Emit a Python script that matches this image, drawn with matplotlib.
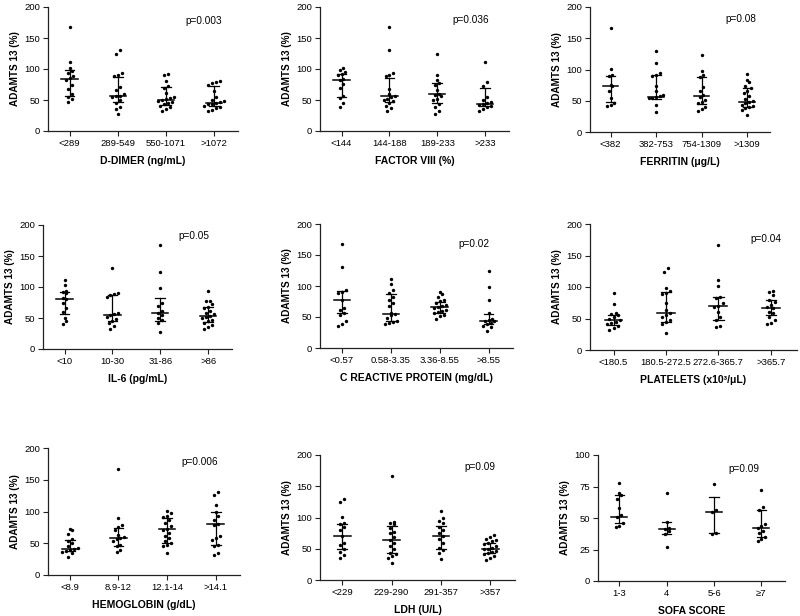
import numpy as np
import matplotlib
matplotlib.use("Agg")
import matplotlib.pyplot as plt

plt.rcParams['font.family'] = ['Liberation Sans', 'DejaVu Sans']

# ---- data (ADAMTS 13 activity, %) ----
ddimer_cats = ['<289', '289-549', '550-1071', '>1072']
ddimer_vals = [[167, 111, 101, 97, 93, 88, 85, 82, 74, 68, 59, 55, 52, 47],
               [131, 125, 94, 91, 89, 71, 66, 59, 57, 56, 55, 50, 45, 39, 35, 27],
               [92, 90, 81, 72, 70, 61, 55, 53, 51, 50, 49, 47, 45, 43, 41, 38, 35, 33],
               [81, 79, 77, 74, 65, 55, 50, 48, 46, 45, 44, 43, 41, 39, 37, 34, 32]]
ddimer_med = [84, 56, 50, 45]
ddimer_q1 = [56, 47, 42, 40]
ddimer_q3 = [98, 87, 71, 73]

f8_cats = ['<144', '144-188', '189-233', '>233']
f8_vals = [[102, 99, 95, 92, 90, 84, 82, 76, 70, 56, 54, 45, 39],
           [167, 130, 94, 91, 89, 68, 60, 57, 55, 52, 50, 48, 45, 41, 37, 33],
           [124, 91, 82, 78, 74, 66, 60, 58, 56, 52, 50, 44, 39, 33, 27],
           [111, 79, 73, 55, 50, 47, 45, 44, 42, 40, 38, 35, 33]]
f8_med = [83, 56, 59, 44]
f8_q1 = [55, 47, 45, 40]
f8_q3 = [92, 86, 77, 70]

ferr_cats = ['<382', '382-753', '754-1309', '>1309']
ferr_vals = [[167, 101, 91, 89, 76, 73, 66, 55, 47, 44, 41],
             [130, 111, 94, 92, 89, 74, 66, 59, 57, 56, 55, 54, 43, 32],
             [124, 98, 91, 88, 72, 66, 59, 56, 52, 48, 46, 40, 37, 33],
             [93, 83, 80, 73, 70, 66, 63, 58, 53, 50, 48, 46, 44, 42, 40, 38, 36, 27]]
ferr_med = [73, 56, 58, 48]
ferr_q1 = [48, 53, 45, 40]
ferr_q3 = [90, 91, 88, 70]

il6_cats = ['<10', '10-30', '31-86', '>86']
il6_vals = [[112, 104, 94, 92, 90, 83, 80, 74, 66, 59, 50, 45, 41],
            [130, 91, 89, 87, 84, 58, 56, 55, 52, 48, 45, 42, 37, 33],
            [167, 124, 98, 75, 69, 61, 58, 55, 50, 46, 42, 27],
            [93, 78, 77, 72, 68, 66, 62, 58, 56, 54, 52, 50, 47, 45, 42, 38, 35, 32]]
il6_med = [80, 55, 58, 54]
il6_q1 = [57, 45, 45, 43]
il6_q3 = [92, 87, 83, 68]

crp_cats = ['<0.57', '0.58-3.35', '3.36-8.55', '>8.55']
crp_vals = [[167, 130, 93, 91, 89, 78, 64, 62, 56, 54, 43, 39, 36],
            [111, 103, 94, 89, 83, 78, 72, 67, 57, 55, 53, 48, 44, 42, 40, 39],
            [91, 87, 82, 78, 76, 73, 70, 68, 66, 64, 62, 60, 58, 56, 54, 51, 47],
            [124, 98, 77, 57, 47, 45, 44, 43, 41, 38, 36, 34, 27]]
crp_med = [78, 55, 66, 44]
crp_q1 = [57, 43, 57, 38]
crp_q3 = [92, 87, 75, 55]

plt_cats = ['<180.5', '180.5-272.5', '272.6-365.7', '>365.7']
plt_vals = [[90, 73, 59, 57, 55, 52, 49, 47, 45, 43, 41, 38, 35, 32],
            [130, 124, 98, 94, 91, 89, 74, 63, 58, 55, 52, 48, 45, 41, 27],
            [167, 111, 101, 84, 82, 75, 70, 69, 61, 52, 48, 38, 36],
            [93, 92, 87, 80, 76, 72, 69, 66, 61, 58, 53, 48, 43, 41]]
plt_med = [47, 58, 70, 66]
plt_q1 = [39, 45, 48, 55]
plt_q3 = [56, 92, 84, 80]

hb_cats = ['<8.9', '8.9-12', '12.1-14', '>14.1']
hb_vals = [[73, 71, 65, 56, 53, 50, 45, 42, 41, 40, 38, 37, 34, 29],
           [167, 90, 78, 75, 71, 63, 60, 58, 56, 54, 47, 45, 40, 37],
           [101, 97, 93, 91, 87, 82, 77, 72, 71, 66, 62, 58, 54, 50, 47, 45, 35],
           [131, 126, 110, 100, 93, 87, 80, 78, 61, 58, 55, 47, 45, 34, 32]]
hb_med = [41, 59, 72, 80]
hb_q1 = [38, 45, 50, 47]
hb_q3 = [55, 74, 90, 99]

ldh_cats = ['<229', '229-290', '291-357', '>357']
ldh_vals = [[130, 125, 101, 91, 89, 85, 80, 70, 60, 56, 50, 45, 40, 35],
            [167, 93, 91, 89, 83, 77, 75, 69, 64, 59, 55, 49, 44, 42, 38, 35, 27],
            [111, 99, 95, 91, 85, 80, 76, 70, 65, 59, 52, 48, 43, 34],
            [72, 69, 66, 64, 62, 60, 57, 55, 52, 50, 49, 47, 45, 43, 41, 38, 35, 32]]
ldh_med = [70, 64, 70, 50]
ldh_q1 = [50, 43, 50, 44]
ldh_q3 = [90, 87, 86, 59]

sofa_cats = ['1-3', '4', '5-6', '\u22657']
sofa_vals = [[78, 70, 68, 65, 58, 52, 51, 46, 44, 43],
             [70, 47, 42, 41, 40, 37, 27],
             [77, 56, 55, 38, 37],
             [72, 59, 56, 45, 44, 42, 40, 38, 35, 33, 32]]
sofa_med = [51, 41, 55, 42]
sofa_q1 = [46, 37, 38, 35]
sofa_q3 = [68, 47, 67, 56]


def swarm_offsets(vals, tol, step=0.08):
    """spread near-equal values side by side, like a scatter dot plot"""
    vals = np.asarray(vals, dtype=float)
    order = np.argsort(vals)
    offs = np.zeros(len(vals))
    i = 0
    while i < len(order):
        j = i
        while j + 1 < len(order) and vals[order[j + 1]] - vals[order[i]] < tol:
            j += 1
        n = j - i + 1
        offs[order[i:j + 1]] = (np.arange(n) - (n - 1) / 2) * step
        i = j + 1
    return offs


def dot_panel(ax, cats, vals, med, q1, q3, xlabel, ptext, ppos, ymax=200):
    tol = ymax * 0.04
    for i, v in enumerate(vals):
        x = i + swarm_offsets(v, tol)
        ax.scatter(x, v, s=6, color='black', zorder=3, clip_on=False, linewidths=0)
        ax.plot([i, i], [q1[i], q3[i]], color='black', lw=0.9)
        ax.plot([i - 0.1, i + 0.1], [q1[i]] * 2, color='black', lw=0.9)
        ax.plot([i - 0.1, i + 0.1], [q3[i]] * 2, color='black', lw=0.9)
        ax.plot([i - 0.17, i + 0.17], [med[i]] * 2, color='black', lw=1.1)
    ax.set_xlim(-0.45, 3.5)
    ax.set_ylim(0, ymax)
    ax.set_yticks(np.linspace(0, ymax, 5))
    ax.set_xticks(range(len(cats)))
    ax.set_xticklabels(cats)
    for s in ['top', 'right']:
        ax.spines[s].set_visible(False)
    for s in ['left', 'bottom']:
        ax.spines[s].set_linewidth(0.9)
        ax.spines[s].set_color('#222222')
    ax.tick_params(labelsize=6.8, length=3.5, width=0.8, color='#222222', pad=2)
    ax.set_ylabel('ADAMTS 13 (%)', fontsize=7.2, fontweight='bold', labelpad=3)
    ax.set_xlabel(xlabel, fontsize=7.5, fontweight='bold', labelpad=6)
    ax.text(ppos[0], ppos[1], ptext, transform=ax.transAxes, fontsize=7.2,
            ha='center', va='center')


fig = plt.figure(figsize=(8, 6.16), dpi=100)
W, H = 800, 616


def add_ax(l, r, t, b):
    return fig.add_axes([l / W, 1 - b / H, (r - l) / W, (b - t) / H])


panels = [
    ((48, 238, 7, 131), ddimer_cats, ddimer_vals, ddimer_med, ddimer_q1, ddimer_q3,
     'D-DIMER (ng/mL)', 'p=0.003', (0.82, 0.89), 200),
    ((320, 509, 7, 131), f8_cats, f8_vals, f8_med, f8_q1, f8_q3,
     'FACTOR VIII (%)', 'p=0.036', (0.80, 0.895), 200),
    ((590, 770, 7, 132), ferr_cats, ferr_vals, ferr_med, ferr_q1, ferr_q3,
     'FERRITIN (\u03bcg/L)', 'p=0.08', (0.84, 0.90), 200),
    ((43, 232, 225, 349), il6_cats, il6_vals, il6_med, il6_q1, il6_q3,
     'IL-6 (pg/mL)', 'p=0.05', (0.80, 0.91), 200),
    ((320, 513, 224, 348), crp_cats, crp_vals, crp_med, crp_q1, crp_q3,
     'C REACTIVE PROTEIN (mg/dL)', 'p=0.02', (0.80, 0.84), 200),
    ((590, 797, 224, 350), plt_cats, plt_vals, plt_med, plt_q1, plt_q3,
     'PLATELETS (x10\u00b3/\u03bcL)', 'p=0.04', (0.85, 0.88), 200),
    ((48, 240, 448, 575), hb_cats, hb_vals, hb_med, hb_q1, hb_q3,
     'HEMOGLOBIN (g/dL)', 'p=0.006', (0.79, 0.89), 200),
    ((320, 515, 455, 580), ldh_cats, ldh_vals, ldh_med, ldh_q1, ldh_q3,
     'LDH (U/L)', 'p=0.09', (0.82, 0.90), 200),
    ((598, 785, 455, 581), sofa_cats, sofa_vals, sofa_med, sofa_q1, sofa_q3,
     'SOFA SCORE', 'p=0.09', (0.78, 0.89), 100),
]

for box, cats, vals, med, q1, q3, xl, pt, pp, ymax in panels:
    ax = add_ax(*box)
    dot_panel(ax, cats, vals, med, q1, q3, xl, pt, pp, ymax)

fig.savefig('out.png', dpi=100, facecolor='white')
